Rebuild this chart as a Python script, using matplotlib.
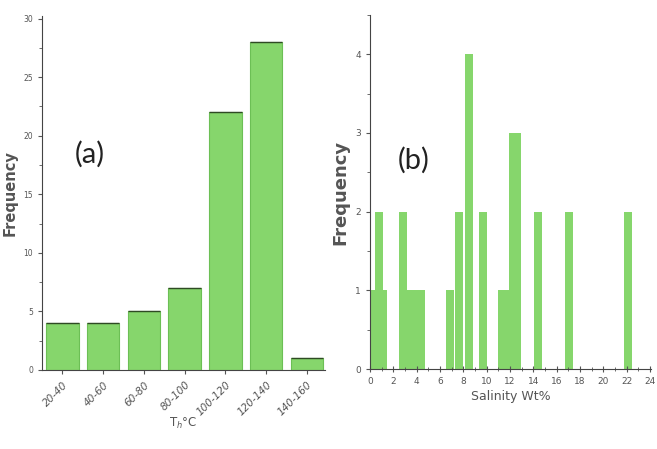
import matplotlib
matplotlib.use("Agg")
import matplotlib.pyplot as plt
import numpy as np
from matplotlib.ticker import MultipleLocator

# homogenisation temperature classes
temp_bins = ["20-40", "40-60", "60-80", "80-100", "100-120", "120-140", "140-160"]
temp_freq = [4, 4, 5, 7, 22, 28, 1]

# salinity values (wt%) and their counts
sal_pos = [0.45, 0.8, 1.1, 2.8, 3.45, 3.95, 4.35, 6.9, 7.6, 8.5, 9.7,
           11.3, 11.7, 12.3, 12.65, 14.4, 17.05, 22.1]
sal_freq = [1, 2, 1, 2, 1, 1, 1, 1, 2, 4, 2,
            1, 1, 3, 3, 2, 2, 2]

green = "#86d66c"
txt = "#555555"

fig = plt.figure(figsize=(6.57, 4.49), dpi=100)

# ---- (a) temperature histogram
ax1 = fig.add_axes([0.064, 0.176, 0.431, 0.788])
x = np.arange(len(temp_bins))
ax1.bar(x, temp_freq, width=0.8, color=green, edgecolor="#6cbf55", linewidth=0.8)
ax1.hlines(temp_freq, x - 0.4, x + 0.4, color="#2f4a24", linewidth=1.0)
ax1.set_xlim(-0.5, 6.45)
ax1.set_ylim(0, 30.2)
ax1.set_xticks(x)
ax1.set_xticklabels(temp_bins, rotation=45, ha="right", rotation_mode="anchor",
                    fontsize=7.5, style="italic", color=txt)
ax1.yaxis.set_major_locator(MultipleLocator(5))
ax1.yaxis.set_minor_locator(MultipleLocator(2.5))
ax1.tick_params(axis="y", labelsize=5.5, colors=txt, length=3)
ax1.tick_params(axis="y", which="minor", length=2, color=txt)
ax1.tick_params(axis="x", length=3, color=txt, pad=4)
ax1.set_ylabel("Frequency", fontsize=10.5, color=txt, fontweight="bold", labelpad=4)
ax1.set_xlabel("T$_h$°C", fontsize=8.5, color=txt, labelpad=-1)
for s in ("top", "right"):
    ax1.spines[s].set_visible(False)
for s in ("left", "bottom"):
    ax1.spines[s].set_color("#444444")
ax1.text(0.17, 0.61, "(a)", transform=ax1.transAxes, fontsize=21, color="#222222",
         family="Lato", ha="center", va="center")

# ---- (b) salinity histogram
ax2 = fig.add_axes([0.563, 0.178, 0.428, 0.789])
ax2.bar(sal_pos, sal_freq, width=0.68, color=green, linewidth=0)
ax2.set_xlim(0, 24.1)
ax2.set_ylim(0, 4.5)
ax2.xaxis.set_major_locator(MultipleLocator(2))
ax2.xaxis.set_minor_locator(MultipleLocator(1))
ax2.yaxis.set_major_locator(MultipleLocator(1))
ax2.yaxis.set_minor_locator(MultipleLocator(0.5))
ax2.tick_params(axis="both", labelsize=6.5, colors=txt, length=3)
ax2.tick_params(axis="x", direction="inout", length=4)
ax2.tick_params(axis="both", which="minor", length=2, color=txt)
ax2.tick_params(axis="x", which="minor", direction="inout", length=3)
ax2.set_ylabel("Frequency", fontsize=13, color=txt, fontweight="bold", labelpad=4)
ax2.set_xlabel("Salinity Wt%", fontsize=9, color=txt, labelpad=3)
for s in ("top", "right"):
    ax2.spines[s].set_visible(False)
for s in ("left", "bottom"):
    ax2.spines[s].set_color("#444444")
ax2.text(0.157, 0.59, "(b)", transform=ax2.transAxes, fontsize=21, color="#222222",
         family="Lato", ha="center", va="center")

fig.savefig("out.png", dpi=100)
